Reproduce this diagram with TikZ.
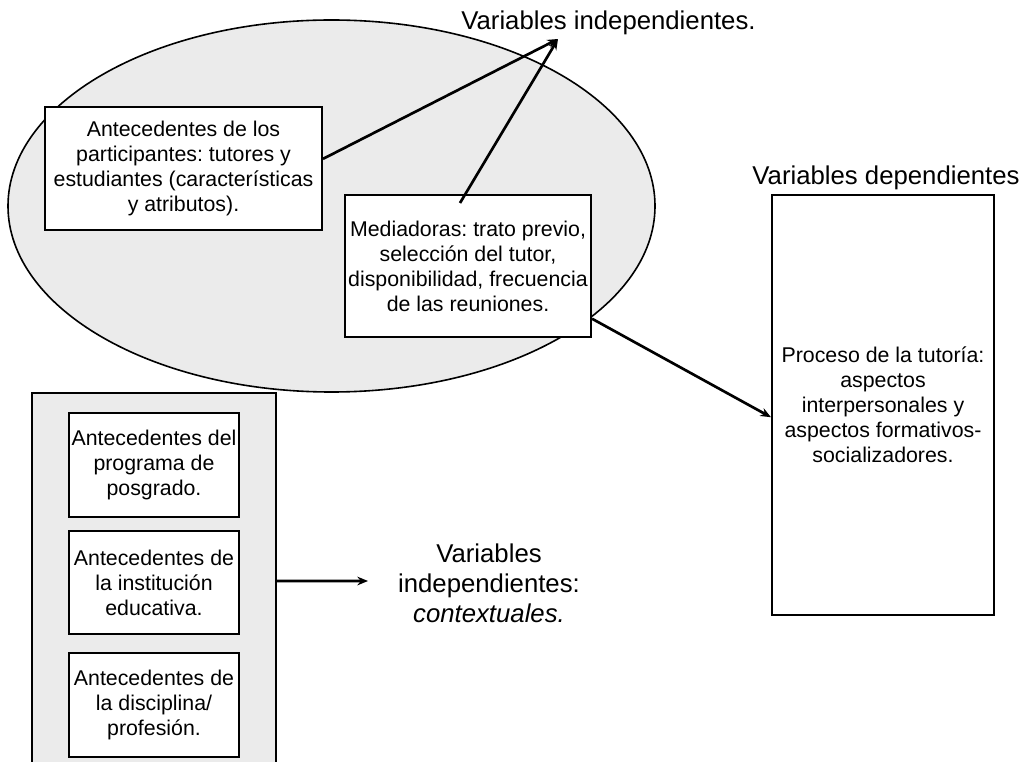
\documentclass[tikz,border=0pt]{standalone}
\usepackage{fontspec}
\setmainfont{Liberation Sans}
\usetikzlibrary{arrows.meta,shapes.geometric,calc}
\definecolor{fillgray}{HTML}{EBEBEB}
\frenchspacing
\begin{document}
\begin{tikzpicture}[x=0.75pt,y=-0.75pt,
  boxtext/.style={font=\fontsize{16}{18.75}\selectfont, align=center},
  wbox/.style={draw=black, line width=1.5pt, fill=white, inner sep=0pt, boxtext},
  lbl/.style={font=\fontsize{19.3}{22.5}\selectfont, align=center, inner sep=0pt},
  arr/.style={line width=2pt, -{Stealth[length=8pt,width=6.5pt]}},
]
\useasboundingbox (0,0) rectangle (1027,762);
\clip (0,0) rectangle (1027,762);
% ellipse
\node[ellipse, draw=black, line width=1.2pt, fill=fillgray, inner sep=0pt,
      minimum width=647*0.75pt, minimum height=372*0.75pt] (ell) at (331.5,206) {};
% boxes inside ellipse
\node[wbox, minimum width=277*0.75pt, minimum height=123*0.75pt] (b1) at (183.5,168.5)
  {Antecedentes de los\\participantes: tutores y\\estudiantes (características\\y atributos).};
\node[wbox, minimum width=246*0.75pt, minimum height=142*0.75pt] (b2) at (468,266)
  {Mediadoras: trato previo,\\selección del tutor,\\disponibilidad, frecuencia\\de las reuniones.};
% top label
\node[lbl] (vi) at (608.5,23) {Variables independientes.};
\coordinate (tip) at (558,39);
\coordinate (m1) at (460,203);
\draw[arr] ($(b1.north east)!0.423!(b1.south east)$) -- (tip);
\draw[arr] (m1) -- (tip);
% dependent
\node[lbl] (vd) at (886,178) {Variables dependientes};
\node[wbox, minimum width=222*0.75pt, minimum height=420*0.75pt] (rb) at (883,405)
  {Proceso de la tutoría:\\aspectos\\interpersonales y\\aspectos formativos-\\socializadores.};
\draw[arr] ($(b2.north east)!0.866!(b2.south east)$) -- ($(rb.north west)!0.529!(rb.south west)$);
% contextual
\node[draw=black, line width=1.5pt, fill=fillgray, inner sep=0pt,
      minimum width=244*0.75pt, minimum height=387*0.75pt] (ctx) at (154,586.5) {};
\node[wbox, minimum width=170*0.75pt, minimum height=104*0.75pt] (c1) at (154,465)
  {Antecedentes del\\programa de\\posgrado.};
\node[wbox, minimum width=170*0.75pt, minimum height=103*0.75pt] (c2) at (154,582.5)
  {Antecedentes de\\la institución\\educativa.};
\node[wbox, minimum width=170*0.75pt, minimum height=104*0.75pt] (c3) at (154,705)
  {Antecedentes de\\la disciplina/\\profesión.};
\node[lbl] (vc) at (489,583) {Variables\\independientes:\\\textit{contextuales.}};
\coordinate (ca) at (368,581);
\draw[arr] ($(ctx.north east)!0.486!(ctx.south east)$) -- (ca);
\end{tikzpicture}
\end{document}
